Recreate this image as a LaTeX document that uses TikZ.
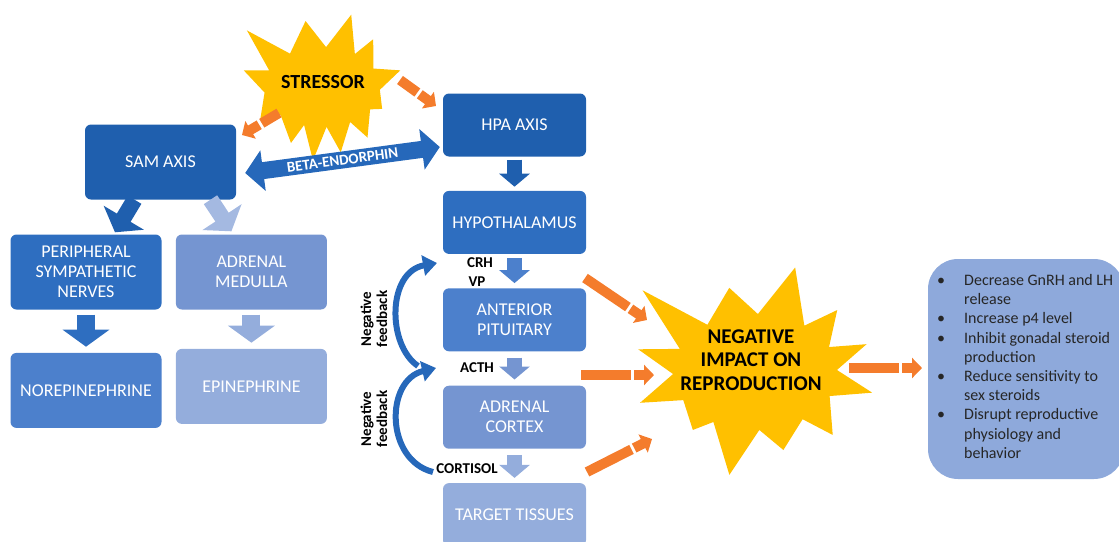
\documentclass[tikz,border=0pt]{standalone}
\usepackage{fontspec}
\setmainfont{Carlito}
\usepackage{array}
\usetikzlibrary{positioning,calc,arrows.meta}

\definecolor{axisblue}{HTML}{1F5FAE}
\definecolor{nerveblue}{HTML}{2E6EC0}
\definecolor{norblue}{HTML}{4C80CC}
\definecolor{medullablue}{HTML}{7595D1}
\definecolor{epiblue}{HTML}{94ADDC}
\definecolor{effectblue}{HTML}{8EA9DB}
\definecolor{effecttext}{HTML}{262626}
\definecolor{stargold}{HTML}{FFC000}
\definecolor{stressorange}{HTML}{F47C2C}
\definecolor{feedblue}{HTML}{2668BA}

\newcommand{\orangearrow}[2]{%
  \draw[orangeline] (#1) -- ($(#2)!23pt!(#1)$);
  \draw[orangeline,-{Triangle[length=10pt,width=20pt]}] ($(#2)!20pt!(#1)$) -- (#2);}

\begin{document}
\begin{tikzpicture}[x=1pt, y=-1pt,
    box/.style={rounded corners=6pt, align=center, text=white, inner sep=2pt,
      font=\fontsize{18}{20}\selectfont},
    hpabox/.style={box, minimum width=143pt, minimum height=63pt},
    sambox/.style={box, minimum width=151pt, minimum height=75pt},
    tag/.style={font=\bfseries\fontsize{15}{16}\selectfont, inner sep=0pt},
    blockarrow/.style={line width=15pt, -{Triangle[length=13pt,width=30pt]}},
    fatarrow/.style={line width=18pt, -{Triangle[length=17pt,width=46pt]}},
    orangeline/.style={line width=10pt, draw=stressorange},
    starfill/.style={fill=stargold},
    feedback/.style={draw=feedblue, line width=6pt, -{Triangle[length=14pt,width=20pt]}}]
  \useasboundingbox (0,0) rectangle (1119,541);
  \clip (0,0) rectangle (1119,541);

  \node[sambox, fill=axisblue] (sam) at (160.5,162) {SAM AXIS};
  \node[sambox, fill=nerveblue] (nerves) at (86,272) {PERIPHERAL\\SYMPATHETIC\\NERVES};
  \node[sambox, fill=medullablue, right=14pt of nerves] (medulla) {ADRENAL\\MEDULLA};
  \node[sambox, fill=norblue, below=43pt of nerves] (norepi) {NOREPINEPHRINE};
  \node[sambox, fill=epiblue, below=39pt of medulla] (epi) {EPINEPHRINE};

  \node[hpabox, fill=axisblue] (hpa) at (514.5,125) {HPA AXIS};
  \node[hpabox, fill=nerveblue, below=34pt of hpa] (hypo) {HYPOTHALAMUS};
  \node[hpabox, fill=norblue, below=34pt of hypo] (pituitary) {ANTERIOR\\PITUITARY};
  \node[hpabox, fill=medullablue, below=34pt of pituitary] (cortex) {ADRENAL\\CORTEX};
  \node[hpabox, fill=epiblue, below=34pt of cortex] (tissues) {TARGET TISSUES};

  \node[fill=effectblue, rounded corners=30pt, minimum width=196pt, minimum height=220pt]
    (effects) at (1026,369) {};
  \node[anchor=west, inner sep=0pt, text=effecttext, font=\fontsize{16}{19.2}\selectfont]
    (effectlist) at (937,368) {%
    \begin{tabular}{@{}p{27pt}@{}l@{}}
      \textbullet & Decrease GnRH and LH\\
                  & release\\
      \textbullet & Increase p4 level\\
      \textbullet & Inhibit gonadal steroid\\
                  & production\\
      \textbullet & Reduce sensitivity to\\
                  & sex steroids\\
      \textbullet & Disrupt reproductive\\
                  & physiology and\\
                  & behavior
    \end{tabular}};

  % stars
  \fill[starfill, shift={(322,87)}] (172:58 and 40)
    \foreach \a/\r/\b in {-168/80/-155.5, -143/94/-123.5, -104/68/-86, -68/78/-55.5,
      -43/70/-27.5, -12/80/4, 20/64/34, 48/68/61, 74/68/85.5, 97/74/108,
      119/64/135.5, 152/70/172} { -- (\a:\r) -- (\b:58 and 40) } -- cycle;
  \fill[starfill, shift={(755,372)}] (151:82 and 58)
    \foreach \a/\r/\b in {165/119/178, 191/119/203.5, 216/139/234.5, 253/88/272,
      291/112/307, 323/103/334.5, 346/115/358, 370/119/384.5, 399/100/414.5,
      430/83/447, 464/106/480.5, 497/85/511} { -- (\a:\r) -- (\b:82 and 58) } -- cycle;
  \node[font=\bfseries\fontsize{20}{22}\selectfont] (stressor) at (323,82) {STRESSOR};
  \node[align=center, font=\bfseries\fontsize{21}{23.5}\selectfont] (impact) at (751,360)
    {NEGATIVE\\IMPACT ON\\REPRODUCTION};

  % labels
  \node[tag] (crh) at (480,263) {CRH};
  \node[tag] (vp) at (477,282) {VP};
  \node[tag] (acth) at (477,368) {ACTH};
  \node[tag] (cortisol) at (467,469) {CORTISOL};
  \node[tag, rotate=90, align=center] (fbtop) at (374,319) {Negative\\feedback};
  \node[tag, rotate=90, align=center] (fbbottom) at (374,419) {Negative\\feedback};

  % blue arrows
  \draw[fatarrow, draw=axisblue, line width=16pt] ([xshift=-26pt]sam.south)
    -- ([xshift=29pt,yshift=2pt]nerves.north);
  \draw[fatarrow, draw=epiblue!85, line width=16pt] ([xshift=50pt]sam.south)
    -- ([xshift=-20pt,yshift=3pt]medulla.north);
  \draw[fatarrow, draw=nerveblue, shorten <=5pt, shorten >=6pt] (nerves.south) -- (norepi.north);
  \draw[fatarrow, draw=epiblue, shorten <=5pt, shorten >=6pt] (medulla.south) -- (epi.north);
  \draw[blockarrow, draw=axisblue, shorten <=3pt, shorten >=4pt] (hpa.south) -- (hypo.north);
  \draw[blockarrow, draw=norblue, shorten <=4pt, shorten >=5pt] (hypo.south) -- (pituitary.north);
  \draw[blockarrow, draw=medullablue, shorten <=6pt, shorten >=6pt] (pituitary.south) -- (cortex.north);
  \draw[blockarrow, draw=epiblue, shorten <=6pt, shorten >=5pt] (cortex.south) -- (tissues.north);
  \draw[line width=17pt, draw=feedblue, {Triangle[length=18pt,width=40pt]}-{Triangle[length=18pt,width=40pt]}]
    ([xshift=9pt,yshift=-11pt]sam.east) -- node[sloped, text=white,
    font=\bfseries\fontsize{15}{15}\selectfont] (beta) {BETA-ENDORPHIN}
    ([xshift=-3pt,yshift=-22pt]hpa.west);

  % feedback loops
  \coordinate (fbAstart) at (418,366);
  \coordinate (fbAend) at (437,263);
  \coordinate (fbBstart) at (433,472);
  \coordinate (fbBend) at (436,368);
  \draw[feedback] (fbAstart) .. controls (387,345) and (387,272) .. (fbAend);
  \draw[feedback] (fbBstart) .. controls (385,460) and (385,380) .. (fbBend);

  % orange arrows
  \coordinate (toSamA) at (279,113);
  \coordinate (toSamB) at (242,135);
  \coordinate (toHpaA) at (400,80);
  \coordinate (toHpaB) at (436,106);
  \coordinate (fromPitA) at (585,278);
  \coordinate (fromPitB) at (647,320);
  \coordinate (fromActhA) at (581,375);
  \coordinate (fromActhB) at (654,375);
  \coordinate (fromCortA) at (587,472);
  \coordinate (fromCortB) at (652,439);
  \coordinate (toEffA) at (849,368);
  \coordinate (toEffB) at (922,368);
  \orangearrow{toSamA}{toSamB}
  \orangearrow{toHpaA}{toHpaB}
  \orangearrow{fromPitA}{fromPitB}
  \orangearrow{fromActhA}{fromActhB}
  \orangearrow{fromCortA}{fromCortB}
  \orangearrow{toEffA}{toEffB}
\end{tikzpicture}
\end{document}
